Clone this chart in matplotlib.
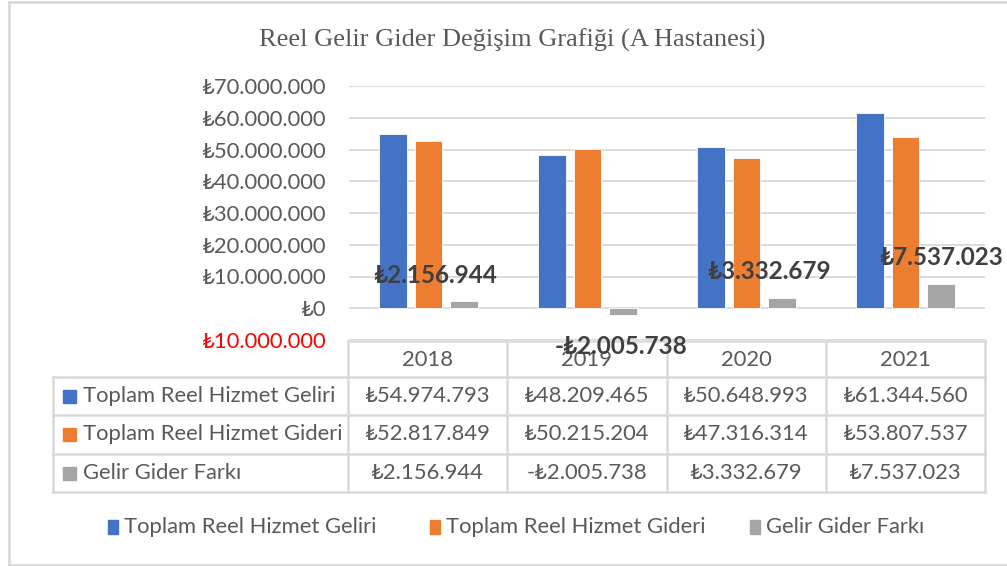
import matplotlib
matplotlib.use("Agg")
import matplotlib.pyplot as plt
from matplotlib.patches import Rectangle

years = ["2018", "2019", "2020", "2021"]
series_names = ["Toplam Reel Hizmet Geliri", "Toplam Reel Hizmet Gideri", "Gelir Gider Farkı"]
gelir = [54974793, 48209465, 50648993, 61344560]
gider = [52817849, 50215204, 47316314, 53807537]
fark = [2156944, -2005738, 3332679, 7537023]
yticks = [-10000000, 0, 10000000, 20000000, 30000000, 40000000, 50000000, 60000000, 70000000]
title = "Reel Gelir Gider Değişim Grafiği (A Hastanesi)"

colors = ["#4472C4", "#ED7D31", "#A5A5A5"]
SANS = ["Lato", "DejaVu Sans"]
TXT = "#595959"
FS = 15.8

def tl(v, neg_sign=True):
    s = "{:,}".format(abs(int(v))).replace(",", ".")
    if v < 0:
        return ("-₺" + s) if neg_sign else ("₺" + s)
    return "₺" + s

W, H = 1007, 566
fig = plt.figure(figsize=(W / 100, H / 100), dpi=100)

def fx(px):
    return px / W

def fy(py):
    return 1 - py / H

ax_l, ax_r, ax_t, ax_b = 349, 985, 86, 340
ax = fig.add_axes([fx(ax_l), fy(ax_b), fx(ax_r - ax_l), (ax_b - ax_t) / H])
ax.set_xlim(-0.5, 3.5)
ax.set_ylim(-10000000, 70000000)
for s in ax.spines.values():
    s.set_visible(False)
ax.set_yticks(yticks)
ax.set_yticklabels([tl(v, neg_sign=False) for v in yticks], family=SANS, fontsize=FS, color=TXT)
for lbl, v in zip(ax.get_yticklabels(), yticks):
    if v < 0:
        lbl.set_color("#FF0000")
ax.tick_params(axis="y", length=0, pad=16)
ax.set_xticks([])
ax.grid(axis="y", color="#D9D9D9", linewidth=1.3)
ax.set_axisbelow(True)

bw = 0.176
off = 0.222
data = [gelir, gider, fark]
xs = list(range(len(years)))
for i, vals in enumerate(data):
    ax.bar([x + (i - 1) * off for x in xs], vals, width=bw, color=colors[i],
           edgecolor="white", linewidth=0.6, zorder=3)

# data labels for difference series
label_dx = [-0.182, -0.01, -0.08, 0.0]
for x, v, dx in zip(xs, fark, label_dx):
    ax.annotate(tl(v), xy=(x + off + dx, v), xytext=(0, 19 if v >= 0 else -23),
                textcoords="offset points", ha="center", va="center",
                fontsize=17.5, fontweight="bold", color="#404040", family=SANS,
                zorder=6, annotation_clip=False)

# overlay for table, legend, title, border
ov = fig.add_axes([0, 0, 1, 1], zorder=-1)
ov.set_xlim(0, W)
ov.set_ylim(H, 0)
ov.axis("off")
ov.patch.set_alpha(0)

gc = "#D9D9D9"
lw = 1.8
ov.plot([9, 9], [2, 565], color=gc, lw=2)
ov.plot([9, W], [2, 2], color=gc, lw=2)
ov.plot([9, W], [565, 565], color=gc, lw=2)

ov.text(512, 40, title, ha="center", va="center", fontsize=19,
        family=["Liberation Serif", "DejaVu Serif"], color=TXT)

col_edges = [348 + 159.25 * i for i in range(5)]
row_edges = [341, 377, 415, 454, 492]
left_x = 53

ov.plot([col_edges[0], col_edges[-1]], [row_edges[0]] * 2, color=gc, lw=lw)
for r in row_edges[1:]:
    ov.plot([left_x, col_edges[-1]], [r, r], color=gc, lw=lw)
ov.plot([left_x, left_x], [row_edges[1], row_edges[-1]], color=gc, lw=lw)
for c in col_edges:
    ov.plot([c, c], [row_edges[0], row_edges[-1]], color=gc, lw=lw)

for i, yv in enumerate(years):
    ov.text((col_edges[i] + col_edges[i + 1]) / 2, (row_edges[0] + row_edges[1]) / 2 + 1, yv,
            ha="center", va="center", fontsize=FS, family=SANS, color=TXT)
for r, (name, vals) in enumerate(zip(series_names, data)):
    yc = (row_edges[r + 1] + row_edges[r + 2]) / 2
    ov.add_patch(Rectangle((63, yc - 6.5), 13, 13, color=colors[r]))
    ov.text(83, yc, name, ha="left", va="center", fontsize=FS, family=SANS, color=TXT)
    for i, v in enumerate(vals):
        ov.text((col_edges[i] + col_edges[i + 1]) / 2, yc, tl(v), ha="center", va="center",
                fontsize=FS, family=SANS, color=TXT)

leg_x = [108, 430, 750]
for i, name in enumerate(series_names):
    ov.add_patch(Rectangle((leg_x[i], 520), 10, 14, color=colors[i]))
    ov.text(leg_x[i] + 16, 527, name, ha="left", va="center", fontsize=FS,
            family=SANS, color=TXT)

fig.savefig("out.png", dpi=100, facecolor="white")
